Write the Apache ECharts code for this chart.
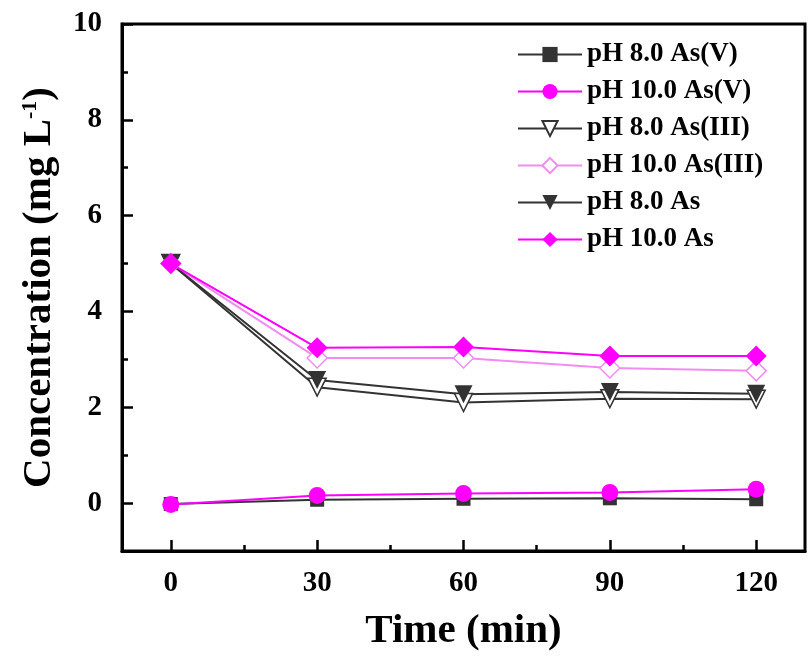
<!DOCTYPE html>
<html>
<head>
<meta charset="utf-8">
<script src="https://cdn.jsdelivr.net/npm/echarts@6/dist/echarts.min.js"></script>
<style>
html,body{margin:0;padding:0;background:#fff;}
#chart{width:808px;height:666px;}
</style>
</head>
<body>
<div id="chart"></div>
<script>
//时间 (min)
var times = [0, 30, 60, 90, 120];
//各组浓度
var ph8AsV = [-0.02, 0.07, 0.09, 0.10, 0.08];
var ph10AsV = [-0.03, 0.16, 0.20, 0.22, 0.29];
var ph8AsIII = [5.0, 2.42, 2.10, 2.18, 2.17];
var ph10AsIII = [5.0, 3.03, 3.03, 2.82, 2.76];
var ph8As = [5.0, 2.57, 2.27, 2.32, 2.28];
var ph10As = [5.0, 3.24, 3.26, 3.07, 3.07];
//刻度
var xTicks = [0, 30, 60, 90, 120];
var xMinor = [15, 45, 75, 105];
var yTicks = [0, 2, 4, 6, 8, 10];
var yMinor = [1, 3, 5, 7, 9];

var font = "'Times New Roman','Liberation Serif',serif";
var dark = '#333333';
var magenta = '#ff00ff';
var pink = '#f28cf2';

function pairs(vals) {
	var out = [];
	for (var i = 0; i < times.length; i++) {
		out.push([times[i], vals[i]]);
	}
	return out;
}

function makeSeries(name, vals, color, symbol, size, rotate, fill) {
	return {
		name: name,
		type: 'line',
		xAxisIndex: 0,
		yAxisIndex: 0,
		data: pairs(vals),
		symbol: symbol,
		symbolSize: size,
		symbolRotate: rotate,
		showAllSymbol: true,
		lineStyle: { color: color, width: 2 },
		itemStyle: { color: fill, borderColor: color, borderWidth: fill == '#fff' ? 1.5 : 0 },
		emphasis: { disabled: true },
		z: 3
	};
}

var container = echarts.init(document.getElementById('chart'));
var option = {
	animation: false,
	grid: {
		left: 122, top: 24, right: 3, bottom: 115,
		show: true, borderColor: '#000', borderWidth: 3
	},
	legend: {
		left: 512, top: 36,
		orient: 'vertical',
		itemWidth: 64, itemHeight: 19, itemGap: 10,
		textStyle: { fontFamily: font, fontWeight: 'bold', fontSize: 27, color: '#000' },
		data: ['pH 8.0 As(V)', 'pH 10.0 As(V)', 'pH 8.0 As(III)', 'pH 10.0 As(III)', 'pH 8.0 As', 'pH 10.0 As']
	},
	xAxis: [{
		type: 'value', min: -10, max: 130,
		name: 'Time (min)', nameLocation: 'middle', nameGap: 60,
		nameTextStyle: { fontFamily: font, fontWeight: 'bold', fontSize: 41, color: '#000' },
		axisLine: { onZero: false, lineStyle: { color: '#000', width: 3 } },
		axisTick: { inside: true, length: 11, lineStyle: { color: '#000', width: 2.5 }, customValues: xTicks },
		axisLabel: { fontFamily: font, fontWeight: 'bold', fontSize: 29, color: '#000', margin: 18, customValues: xTicks },
		splitLine: { show: false }
	}, {
		type: 'value', min: -10, max: 130, position: 'bottom',
		axisLine: { show: false, onZero: false },
		axisTick: { inside: true, length: 6, lineStyle: { color: '#000', width: 2.5 }, customValues: xMinor },
		axisLabel: { show: false },
		splitLine: { show: false }
	}],
	yAxis: [{
		type: 'value', min: -1, max: 10,
		name: 'Concentration (mg L{sup|-1})', nameLocation: 'middle', nameGap: 62,
		nameTextStyle: {
			fontFamily: font, fontWeight: 'bold', fontSize: 41, color: '#000',
			rich: { sup: { fontFamily: font, fontWeight: 'bold', fontSize: 22, color: '#000', verticalAlign: 'top', padding: [0, 0, 18, 0] } }
		},
		axisLine: { onZero: false, lineStyle: { color: '#000', width: 3 } },
		axisTick: { inside: true, length: 11, lineStyle: { color: '#000', width: 2.5 }, customValues: yTicks },
		axisLabel: { fontFamily: font, fontWeight: 'bold', fontSize: 29, color: '#000', margin: 20, customValues: yTicks },
		splitLine: { show: false }
	}, {
		type: 'value', min: -1, max: 10, position: 'left',
		axisLine: { show: false, onZero: false },
		axisTick: { inside: true, length: 6, lineStyle: { color: '#000', width: 2.5 }, customValues: yMinor },
		axisLabel: { show: false },
		splitLine: { show: false }
	}],
	series: [
		makeSeries('pH 8.0 As(V)', ph8AsV, dark, 'rect', 14, 0, dark),
		makeSeries('pH 10.0 As(V)', ph10AsV, magenta, 'circle', 17, 0, magenta),
		makeSeries('pH 8.0 As(III)', ph8AsIII, dark, 'triangle', 18, 180, '#fff'),
		makeSeries('pH 10.0 As(III)', ph10AsIII, pink, 'diamond', 20, 0, '#fff'),
		makeSeries('pH 8.0 As', ph8As, dark, 'triangle', 18, 180, dark),
		makeSeries('pH 10.0 As', ph10As, magenta, 'diamond', 21, 0, magenta)
	]
};
container.setOption(option, true);
</script>
</body>
</html>
